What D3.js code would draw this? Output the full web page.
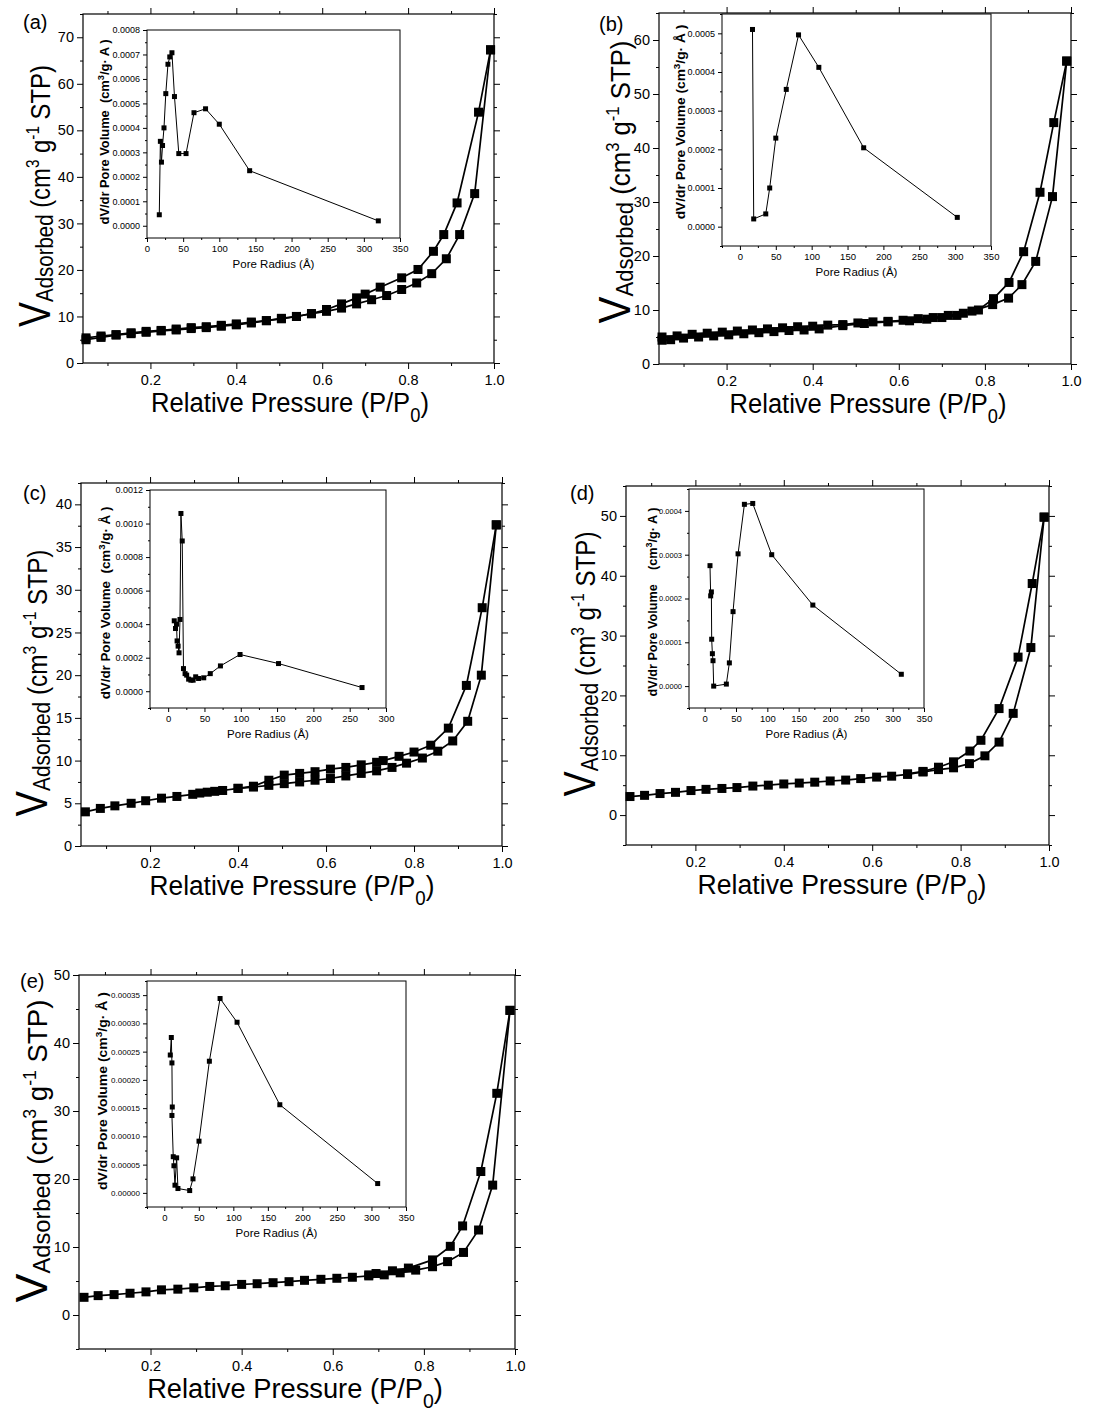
<!DOCTYPE html>
<html>
<head>
<meta charset="utf-8">
<script src="https://cdn.jsdelivr.net/npm/d3@7"></script>
<style>
body { margin: 0; background: #fff; }
svg { display: block; }
text { font-family: Arial, "Liberation Sans", sans-serif; fill: #000; white-space: pre; }
</style>
</head>
<body>
<svg width="1115" height="1416"></svg>
<script>
// ---- isotherms (relative pressure, volume adsorbed) ----
var adsPA = [0.05,0.085,0.12,0.155,0.19,0.225,0.26,0.295,0.33,0.365,0.40,0.435,0.47,0.505,0.54,0.575,0.61,0.645,0.68,0.715,0.75,0.785,0.82,0.855,0.889,0.92,0.955,0.992];
var adsVA = [5.0,5.5,6.0,6.3,6.6,6.9,7.1,7.4,7.6,7.9,8.2,8.6,9.1,9.5,10.0,10.6,11.1,11.8,12.7,13.6,14.5,15.8,17.2,19.2,22.4,27.6,36.4,67.3];
var desPA = [0.05,0.085,0.12,0.155,0.19,0.225,0.26,0.295,0.33,0.365,0.40,0.435,0.47,0.505,0.54,0.575,0.61,0.645,0.68,0.70,0.735,0.785,0.823,0.859,0.883,0.914,0.964,0.992];
var desVA = [5.4,5.8,6.1,6.5,6.8,7.0,7.3,7.6,7.8,8.1,8.4,8.8,9.1,9.6,10.0,10.6,11.5,12.7,14.0,14.8,16.3,18.3,20.1,24.0,27.6,34.4,53.9,67.3];

var adsPB = [0.05,0.07,0.10,0.135,0.17,0.205,0.24,0.275,0.31,0.345,0.38,0.415,0.47,0.52,0.575,0.625,0.665,0.70,0.735,0.77,0.818,0.855,0.886,0.918,0.957,0.99];
var adsVB = [4.4,4.5,4.8,5.0,5.2,5.4,5.6,5.8,6.0,6.2,6.3,6.5,7.1,7.5,7.8,8.0,8.3,8.6,9.0,9.8,11.0,12.2,14.7,19.0,31.0,56.1];
var desPB = [0.05,0.085,0.12,0.155,0.19,0.225,0.26,0.295,0.33,0.365,0.40,0.435,0.47,0.505,0.54,0.575,0.61,0.645,0.68,0.715,0.75,0.785,0.82,0.856,0.89,0.928,0.96,0.99];
var desVB = [5.0,5.2,5.5,5.7,5.9,6.1,6.3,6.5,6.7,6.9,7.0,7.2,7.3,7.6,7.8,7.9,8.1,8.4,8.6,9.0,9.4,10.0,12.1,15.1,20.8,31.8,44.7,56.1];

var adsPC = [0.053,0.087,0.12,0.157,0.19,0.226,0.261,0.297,0.313,0.33,0.347,0.365,0.40,0.435,0.47,0.505,0.54,0.575,0.61,0.645,0.68,0.715,0.75,0.783,0.819,0.854,0.888,0.922,0.953,0.987];
var adsVC = [4.0,4.4,4.7,5.0,5.3,5.6,5.8,6.05,6.2,6.3,6.4,6.5,6.75,6.9,7.1,7.3,7.5,7.7,7.9,8.2,8.5,8.8,9.2,9.7,10.3,11.1,12.3,14.6,20.0,37.6];
var desPC = [0.40,0.435,0.47,0.505,0.54,0.575,0.61,0.645,0.68,0.715,0.73,0.766,0.80,0.838,0.878,0.919,0.955,0.987];
var desVC = [6.75,7.0,7.7,8.3,8.5,8.7,9.0,9.2,9.5,9.8,10.0,10.5,11.0,11.8,13.8,18.8,27.9,37.6];

var adsPD = [0.052,0.085,0.12,0.155,0.19,0.224,0.26,0.294,0.33,0.365,0.40,0.435,0.47,0.505,0.54,0.574,0.61,0.644,0.68,0.715,0.75,0.784,0.82,0.855,0.887,0.919,0.959,0.989];
var adsVD = [3.1,3.3,3.6,3.8,4.1,4.3,4.45,4.6,4.85,5.0,5.2,5.35,5.5,5.7,5.85,6.1,6.35,6.5,6.8,7.2,7.6,7.9,8.6,9.9,12.2,17.0,28.0,49.8];
var desPD = [0.68,0.715,0.75,0.784,0.821,0.846,0.887,0.93,0.962,0.989];
var desVD = [6.9,7.3,8.0,8.9,10.7,12.5,17.8,26.4,38.7,49.8];

var adsPE = [0.054,0.085,0.12,0.155,0.19,0.224,0.26,0.295,0.33,0.364,0.40,0.434,0.469,0.504,0.538,0.574,0.609,0.643,0.679,0.713,0.748,0.782,0.819,0.852,0.887,0.92,0.951,0.989];
var adsVE = [2.6,2.85,3.0,3.2,3.4,3.7,3.8,4.0,4.2,4.3,4.5,4.6,4.75,4.9,5.1,5.25,5.4,5.55,5.75,5.9,6.2,6.6,7.1,7.85,9.2,12.5,19.1,44.8];
var desPE = [0.679,0.695,0.731,0.766,0.819,0.858,0.885,0.925,0.96,0.989];
var desVE = [5.9,6.1,6.5,6.9,8.1,10.1,13.1,21.1,32.6,44.8];

// ---- pore size distributions (radius in angstrom, dV/dr) ----
var radA = [17,18.5,20,21.5,23.5,26,29,31.5,34.5,38,44,54,65,81,100,142,320];
var dvA = [0.000045,0.000345,0.00026,0.000328,0.0004,0.00054,0.00066,0.00069,0.000707,0.000528,0.000295,0.000295,0.000462,0.000478,0.000415,0.000225,0.00002];
var radB = [17.5,19.2,36,41.5,50,64.6,81.7,110,172.5,303];
var dvB = [0.00051,0.00002,0.000033,0.0001,0.000229,0.000355,0.000496,0.000412,0.000204,0.000024];
var radC = [8.4,10.1,11.5,12.3,13.7,15,16.3,17.6,19.4,21.1,23.3,25.5,28.2,31.3,34.4,37.9,41.9,49,58,72,99,152,267];
var dvC = [0.00042,0.000374,0.0004,0.0003,0.000269,0.000229,0.000428,0.00106,0.000896,0.000135,0.000105,0.000096,0.000072,0.000066,0.000066,0.000086,0.000076,0.00008,0.000105,0.000151,0.000219,0.000165,0.000022];
var radD = [8.5,9.6,10.7,11.2,12.3,13.3,14.4,34.6,39.4,45.3,53.3,63.4,76.7,107,172.6,313.8];
var dvD = [0.000275,0.000206,0.000215,0.000107,0.000074,0.000058,0.0,0.0000046,0.000053,0.00017,0.000302,0.000415,0.000417,0.0003,0.000185,0.000027];
var radE = [8.7,10.2,11.1,11.6,11.1,13,14,15.5,17.9,19.8,36.8,41.6,50.3,65.3,80.8,105.4,167.3,309];
var dvE = [0.000244,0.000275,0.00023,0.000152,0.000137,0.000064,0.000048,0.0000136,0.000062,0.0000077,0.0000041,0.0000248,0.0000915,0.000233,0.000344,0.000302,0.000156,0.0000165];

// ---- tick values ----
var pressureTicks = [0.2, 0.4, 0.6, 0.8, 1.0];
var pressureMinor = [0.1, 0.3, 0.5, 0.7, 0.9];

var zip = (xs, ys) => xs.map((x, i) => ({x: x, y: ys[i]}));

var panels = [
    {tag: "(a)", tagX: 23, tagY: 29,
     box: {l: 83, r: 494, t: 14, b: 363}, yDom: [0, 75], yStep: 10,
     xTitle: {c: 290, len: 278}, yTitle: {c: 196, len: 262, off: 33},
     ads: zip(adsPA, adsVA), des: zip(desPA, desVA),
     inset: {l: 147, r: 400, t: 30, b: 238, xDom: [0, 350], xMax: 350, yDom: [-0.00005, 0.0008], yStep: 0.0001, fmt: ".4f",
             tickFont: 9, unit: "A", titleOff: 38, gap: "  ", tc: 132, tl: 185, pts: zip(radA, dvA)}},
    {tag: "(b)", tagX: 599, tagY: 31,
     box: {l: 659, r: 1071, t: 13, b: 364}, yDom: [0, 65], yStep: 10,
     xTitle: {c: 868, len: 277}, yTitle: {c: 182, len: 283, off: 29},
     ads: zip(adsPB, adsVB), des: zip(desPB, desVB),
     inset: {l: 722, r: 991, t: 14, b: 246, xDom: [-25, 350], xMax: 350, yDom: [-0.00005, 0.00055], yStep: 0.0001, fmt: ".4f",
             tickFont: 9, unit: "Å", titleOff: 37, gap: " ", tc: 122, tl: 195, pts: zip(radB, dvB)}},
    {tag: "(c)", tagX: 23, tagY: 500,
     box: {l: 81, r: 502, t: 483, b: 846}, yDom: [0, 42.5], yStep: 5,
     xTitle: {c: 292, len: 285}, yTitle: {c: 683, len: 267, off: 34},
     ads: zip(adsPC, adsVC), des: zip(desPC, desVC),
     inset: {l: 150, r: 386, t: 490, b: 708, xDom: [-25, 300], xMax: 300, yDom: [-0.0001, 0.0012], yStep: 0.0002, fmt: ".4f",
             tickFont: 9, unit: "Å", titleOff: 40, gap: "  ", tc: 603, tl: 193, pts: zip(radC, dvC)}},
    {tag: "(d)", tagX: 570, tagY: 500,
     box: {l: 626, r: 1049, t: 486, b: 845}, yDom: [-5, 55], yStep: 10,
     xTitle: {c: 842, len: 289}, yTitle: {c: 664, len: 265, off: 31},
     ads: zip(adsPD, adsVD), des: zip(desPD, desVD),
     inset: {l: 689, r: 924, t: 489, b: 708, xDom: [-25, 350], xMax: 350, yDom: [-0.00005, 0.00045], yStep: 0.0001, fmt: ".4f",
             tickFont: 7.5, unit: "A", titleOff: 32, gap: "    ", tc: 602, tl: 189, pts: zip(radD, dvD)}},
    {tag: "(e)", tagX: 20, tagY: 988,
     box: {l: 79, r: 515, t: 975, b: 1349}, yDom: [-5, 50], yStep: 10,
     xTitle: {c: 295, len: 296}, yTitle: {c: 1151, len: 303, off: 32},
     ads: zip(adsPE, adsVE), des: zip(desPE, desVE),
     inset: {l: 147, r: 406, t: 981, b: 1207, xDom: [-25, 350], xMax: 350, yDom: [-0.000025, 0.000375], yStep: 0.00005, fmt: ".5f",
             tickFont: 8, unit: "Å", titleOff: 40, gap: " ", tc: 1091, tl: 198, pts: zip(radE, dvE)}}
];

var svg = d3.select("svg");

function styleAxis(g, fontSize) {
    g.select(".domain").remove();
    g.selectAll("line").attr("stroke", "#000").attr("stroke-width", 1);
    g.selectAll("text").attr("font-size", fontSize).attr("fill", "#000");
}

// squeeze a text along its own direction so it spans the wanted length
function fitText(t, x, y, len, rotate) {
    var natural = t.node().getComputedTextLength();
    var k = len / natural;
    t.attr("transform", `translate(${x},${y})` + (rotate ? " rotate(-90)" : "") + ` scale(${k},1)`);
}

function drawMain(p) {
    var b = p.box;
    var x = d3.scaleLinear().domain([0.043, 1.0]).range([b.l, b.r]);
    var y = d3.scaleLinear().domain(p.yDom).range([b.b, b.t]);
    var g = svg.append("g");

    var yMajor = d3.range(0, p.yDom[1] + 0.001, p.yStep);
    var yMinor = d3.range(p.yDom[0], p.yDom[1] + 0.001, p.yStep / 2)
        .filter(v => yMajor.indexOf(v) < 0);

    // bottom + top
    g.append("g").attr("transform", `translate(0,${b.b})`)
        .call(d3.axisBottom(x).tickValues(pressureTicks).tickSize(6).tickPadding(6).tickFormat(d3.format(".1f")))
        .call(a => styleAxis(a, 14.5));
    g.append("g").attr("transform", `translate(0,${b.b})`)
        .call(d3.axisBottom(x).tickValues(pressureMinor).tickSize(3).tickFormat(""))
        .call(a => styleAxis(a, 0));
    g.append("g").attr("transform", `translate(0,${b.t})`)
        .call(d3.axisTop(x).tickValues(pressureTicks).tickSize(6).tickFormat(""))
        .call(a => styleAxis(a, 0));
    g.append("g").attr("transform", `translate(0,${b.t})`)
        .call(d3.axisTop(x).tickValues(pressureMinor).tickSize(3).tickFormat(""))
        .call(a => styleAxis(a, 0));
    // left + right
    g.append("g").attr("transform", `translate(${b.l},0)`)
        .call(d3.axisLeft(y).tickValues(yMajor).tickSize(6).tickPadding(3).tickFormat(d3.format("d")))
        .call(a => styleAxis(a, 14.5));
    g.append("g").attr("transform", `translate(${b.l},0)`)
        .call(d3.axisLeft(y).tickValues(yMinor).tickSize(3).tickFormat(""))
        .call(a => styleAxis(a, 0));
    g.append("g").attr("transform", `translate(${b.r},0)`)
        .call(d3.axisRight(y).tickValues(yMajor).tickSize(6).tickFormat(""))
        .call(a => styleAxis(a, 0));
    g.append("g").attr("transform", `translate(${b.r},0)`)
        .call(d3.axisRight(y).tickValues(yMinor).tickSize(3).tickFormat(""))
        .call(a => styleAxis(a, 0));

    g.append("rect")
        .attr("x", b.l).attr("y", b.t)
        .attr("width", b.r - b.l).attr("height", b.b - b.t)
        .attr("fill", "none").attr("stroke", "#000").attr("stroke-width", 1.2);

    var line = d3.line().x(d => x(d.x)).y(d => y(d.y));
    [p.ads, p.des].forEach(series => {
        g.append("path").datum(series)
            .attr("d", line)
            .attr("fill", "none").attr("stroke", "#000").attr("stroke-width", 1.7);
        g.selectAll(null).data(series).enter().append("rect")
            .attr("x", d => x(d.x) - 4.5).attr("y", d => y(d.y) - 4.5)
            .attr("width", 9).attr("height", 9).attr("fill", "#000");
    });

    // x title
    var xt = g.append("text")
        .attr("text-anchor", "middle").attr("font-size", 28);
    xt.append("tspan").text("Relative Pressure (P/P");
    xt.append("tspan").attr("font-size", 20).attr("dy", 10).text("0");
    xt.append("tspan").attr("dy", -10).text(")");
    fitText(xt, p.xTitle.c, b.b + 49, p.xTitle.len, false);

    // y title
    var yt = g.append("text")
        .attr("text-anchor", "middle").attr("font-size", 28);
    yt.append("tspan").attr("font-size", 44).text("V");
    yt.append("tspan").attr("font-size", 24).attr("dy", 3).text("Adsorbed");
    yt.append("tspan").attr("dy", -3).text(" (cm");
    yt.append("tspan").attr("font-size", 18).attr("dy", -11).text("3");
    yt.append("tspan").attr("dy", 11).text(" g");
    yt.append("tspan").attr("font-size", 18).attr("dy", -11).text("-1");
    yt.append("tspan").attr("dy", 11).text(" STP)");
    fitText(yt, b.l - p.yTitle.off, p.yTitle.c, p.yTitle.len, true);

    g.append("text").attr("x", p.tagX).attr("y", p.tagY)
        .attr("font-size", 20).text(p.tag);
}

function drawInset(p) {
    var s = p.inset;
    var x = d3.scaleLinear().domain(s.xDom).range([s.l, s.r]);
    var y = d3.scaleLinear().domain(s.yDom).range([s.b, s.t]);
    var g = svg.append("g");

    g.append("rect")
        .attr("x", s.l).attr("y", s.t)
        .attr("width", s.r - s.l).attr("height", s.b - s.t)
        .attr("fill", "#fff").attr("stroke", "#000").attr("stroke-width", 1);

    var xMajor = d3.range(0, s.xMax + 1, 50);
    var xMinor = d3.range(s.xDom[0], s.xMax + 1, 25).filter(v => v % 50 !== 0);
    var n = Math.floor(s.yDom[1] / s.yStep + 1e-6);
    var yMajor = d3.range(0, n + 1).map(i => i * s.yStep);
    var yMinor = d3.range(-1, n + 1).map(i => (i + 0.5) * s.yStep)
        .filter(v => v >= s.yDom[0] - 1e-9 && v <= s.yDom[1] + 1e-9);

    g.append("g").attr("transform", `translate(0,${s.b})`)
        .call(d3.axisBottom(x).tickValues(xMajor).tickSize(4).tickPadding(3).tickFormat(d3.format("d")))
        .call(a => styleAxis(a, 9.5));
    g.append("g").attr("transform", `translate(0,${s.b})`)
        .call(d3.axisBottom(x).tickValues(xMinor).tickSize(2).tickFormat(""))
        .call(a => styleAxis(a, 0));
    g.append("g").attr("transform", `translate(${s.l},0)`)
        .call(d3.axisLeft(y).tickValues(yMajor).tickSize(4).tickPadding(3).tickFormat(d3.format(s.fmt)))
        .call(a => styleAxis(a, s.tickFont));
    g.append("g").attr("transform", `translate(${s.l},0)`)
        .call(d3.axisLeft(y).tickValues(yMinor).tickSize(2).tickFormat(""))
        .call(a => styleAxis(a, 0));

    g.append("path").datum(s.pts)
        .attr("d", d3.line().x(d => x(d.x)).y(d => y(d.y)))
        .attr("fill", "none").attr("stroke", "#000").attr("stroke-width", 1);
    g.selectAll(null).data(s.pts).enter().append("rect")
        .attr("x", d => x(d.x) - 2.5).attr("y", d => y(d.y) - 2.5)
        .attr("width", 5).attr("height", 5).attr("fill", "#000");

    g.append("text")
        .attr("x", (s.l + s.r) / 2).attr("y", s.b + 30)
        .attr("text-anchor", "middle").attr("font-size", 11.5)
        .text("Pore Radius (Å)");

    var yt = g.append("text")
        .attr("text-anchor", "middle").attr("font-size", 12.5).attr("font-weight", "bold");
    yt.append("tspan").text("dV/dr Pore Volume" + s.gap + "(cm");
    yt.append("tspan").attr("font-size", 9).attr("dy", -5).text("3");
    yt.append("tspan").attr("dy", 5).text("/g· " + s.unit + " )");
    fitText(yt, s.l - s.titleOff, s.tc, s.tl, true);
}

panels.forEach(p => {
    drawMain(p);
    drawInset(p);
});
</script>
</body>
</html>
